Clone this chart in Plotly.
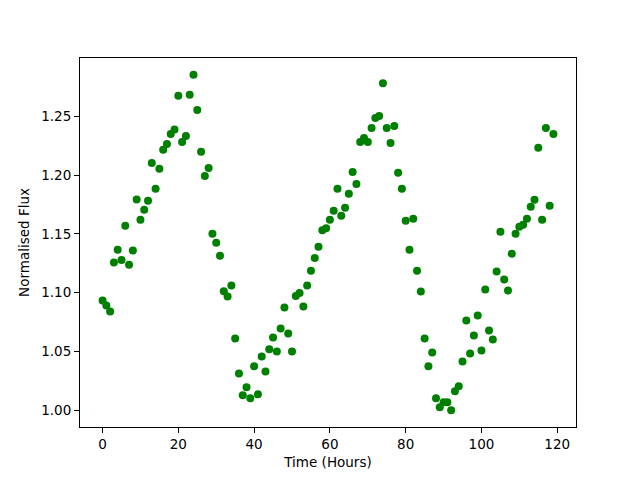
import plotly.graph_objects as go

hours = list(range(120))
flux = [
    1.0934, 1.0892, 1.0841, 1.1258, 1.1366, 1.1278, 1.1569, 1.1239, 1.1358, 1.1792,
    1.1620, 1.1705, 1.1781, 1.2103, 1.1883, 1.2053, 1.2214, 1.2264, 1.2349, 1.2386,
    1.2674, 1.2281, 1.2332, 1.2682, 1.2852, 1.2553, 1.2197, 1.1993, 1.2061, 1.1502,
    1.1425, 1.1315, 1.1013, 1.0968, 1.1061, 1.0612, 1.0315, 1.0129, 1.0197, 1.0103,
    1.0375, 1.0137, 1.0459, 1.0332, 1.0519, 1.0620, 1.0502, 1.0697, 1.0875, 1.0654,
    1.0502, 1.0973, 1.0999, 1.0883, 1.1061, 1.1188, 1.1295, 1.1391, 1.1532, 1.1549,
    1.1620, 1.1697, 1.1883, 1.1654, 1.1722, 1.1841, 1.2027, 1.1925, 1.2281, 1.2315,
    1.2281, 1.2400, 1.2485, 1.2502, 1.2781, 1.2400, 1.2273, 1.2417, 1.2019, 1.1883,
    1.1612, 1.1366, 1.1629, 1.1188, 1.1010, 1.0612, 1.0375, 1.0493, 1.0103, 1.0027,
    1.0069, 1.0069, 1.0002, 1.0163, 1.0205, 1.0417, 1.0764, 1.0485, 1.0637, 1.0807,
    1.0510, 1.1027, 1.0680, 1.0603, 1.1180, 1.1519, 1.1112, 1.1019, 1.1332, 1.1502,
    1.1561, 1.1578, 1.1629, 1.1731, 1.1790, 1.2231, 1.1620, 1.2400, 1.1739, 1.2349,
]
x_ticks = [0, 20, 40, 60, 80, 100, 120]
y_ticks = [1.00, 1.05, 1.10, 1.15, 1.20, 1.25]

xmin, xmax = min(hours), max(hours)
ymin, ymax = min(flux), max(flux)
xpad = 0.05 * (xmax - xmin)
ypad = 0.05 * (ymax - ymin)

fig = go.Figure(go.Scatter(
    x=hours, y=flux, mode="markers",
    marker=dict(color="green", size=8, line=dict(width=0)),
))

font = dict(family="DejaVu Sans", size=13.5, color="black")
axis_common = dict(
    showline=True, linecolor="black", linewidth=1, mirror=True,
    ticks="outside", ticklen=5, tickwidth=1, tickcolor="black",
    showgrid=False, zeroline=False, tickfont=font, automargin=False,
)
fig.update_layout(
    width=640, height=480,
    margin=dict(l=72, r=72, t=50, b=61),
    paper_bgcolor="white", plot_bgcolor="white",
    showlegend=False,
    font=font,
    xaxis=dict(range=[xmin - xpad, xmax + xpad], tickvals=x_ticks,
               title=dict(text="Time (Hours)", font=font, standoff=6), **axis_common),
    yaxis=dict(range=[ymin - ypad, ymax + ypad], tickvals=y_ticks, tickformat=".2f",
               title=dict(text="Normalised Flux", font=font, standoff=8), **axis_common),
)
fig.write_html("out.html")
